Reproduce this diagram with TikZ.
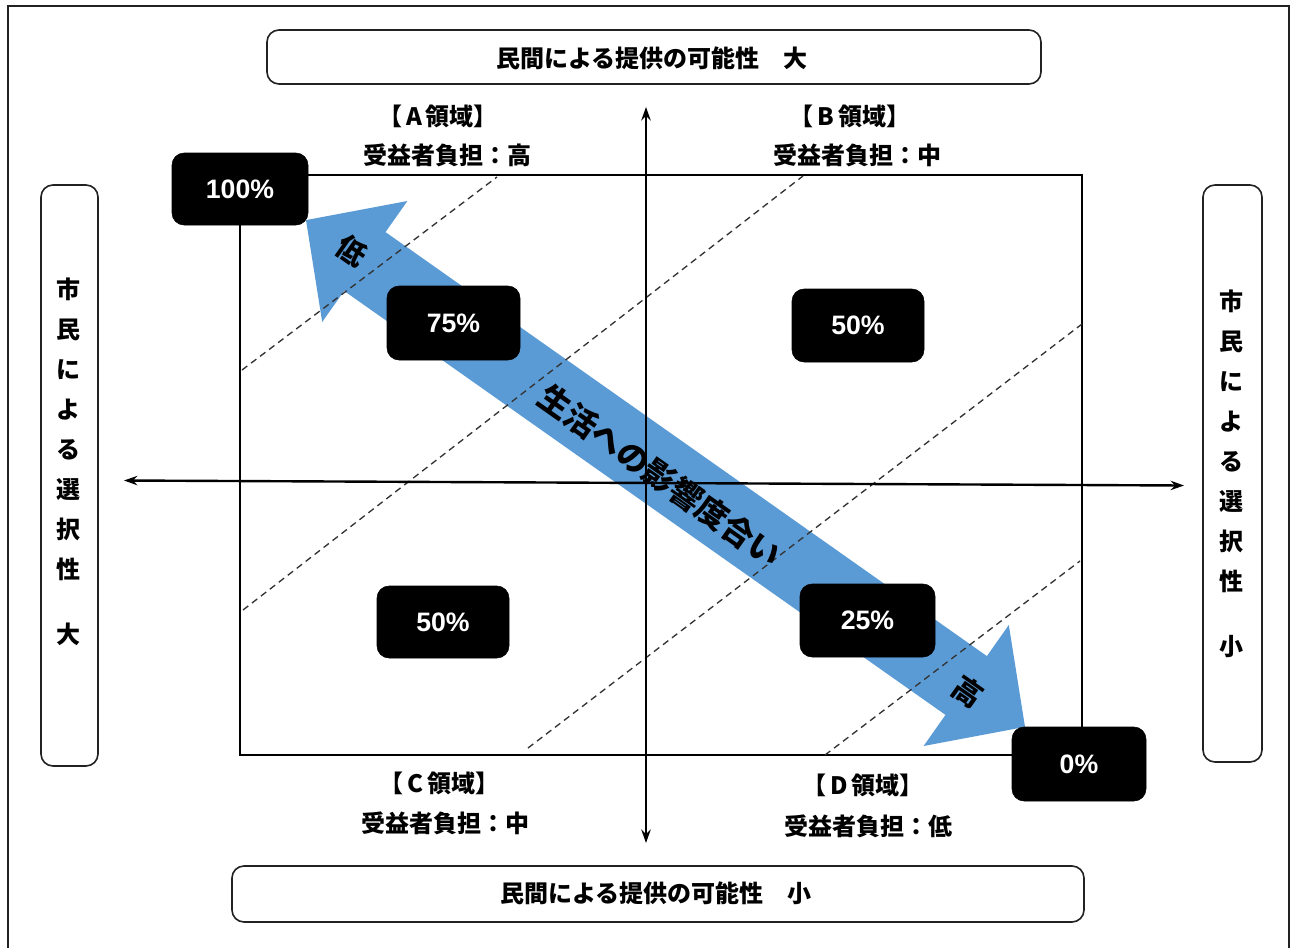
\documentclass[tikz,border=0pt]{standalone}
\usepackage{fontspec}
\setmainfont{Noto Sans CJK JP}
\newfontfamily\pctfont{Liberation Sans}
\usetikzlibrary{arrows.meta}
\definecolor{arrowblue}{HTML}{5B9BD5}
\definecolor{frame}{HTML}{222222}
\begin{document}
\begin{tikzpicture}[x=0.75pt,y=-0.75pt,
  jp/.style={font=\bfseries\fontsize{18}{18}\selectfont, inner sep=0pt},
  pct/.style={fill=black, draw=black, rounded corners=9pt, text=white, inner sep=0pt,
    font=\pctfont\bfseries\fontsize{20}{20}\selectfont},
  sidebox/.style={draw=frame, line width=1.2pt, rounded corners=9pt, fill=white, inner sep=0pt},
  axis/.style={line width=1.8pt, {Stealth[length=10pt,width=7pt]}-{Stealth[length=10pt,width=7pt]}},
  guide/.style={draw=black!80, line width=1pt, dash pattern=on 5pt off 3.5pt},
  vtext/.style={font=\bfseries\fontsize{18}{30}\selectfont, align=center, inner sep=0pt},
  arrtext/.style={font=\bfseries\fontsize{24}{24}\selectfont, inner sep=0pt, rotate=-35.2}
]
\useasboundingbox (0,0) rectangle (1290,947);
\fill[white] (0,0) rectangle (1290,947);
% outer frame
\draw[frame, line width=1.5pt] (8,6) rectangle (1289,980);

% inner quadrant rectangle
\draw[line width=1.1pt] (240,175) rectangle (1082,755);

% blue double arrow
\fill[arrowblue] (306,220.1) -- (407.4,201.0) -- (385.5,232.1) -- (986.9,656.1) -- (1008.8,625.0)
  -- (1025,726.9) -- (923.6,746.0) -- (945.5,714.9) -- (344.1,290.9) -- (322.2,322.0) -- cycle;

% dashed guides
\coordinate (g1a) at (242,370); \coordinate (g1b) at (497,177);
\coordinate (g2a) at (243,610); \coordinate (g2b) at (803,176);
\coordinate (g3a) at (528,748); \coordinate (g3b) at (1082,324);
\coordinate (g4a) at (825,755); \coordinate (g4b) at (1080,561);
\draw[guide] (g1a) -- (g1b);
\draw[guide] (g2a) -- (g2b);
\draw[guide] (g3a) -- (g3b);
\draw[guide] (g4a) -- (g4b);

% axes
\coordinate (vtop) at (646,107);
\coordinate (vbot) at (646,843);
\coordinate (hleft) at (124,480.5);
\coordinate (hright) at (1184,485.5);
\draw[axis] (vbot) -- (vtop);
\draw[axis] (hleft) -- (hright);

% arrow texts
\node[arrtext] (life) at (660,476) {生活への影響度合い};
\node[arrtext, font=\bfseries\fontsize{22}{22}\selectfont] (low) at (352,251) {低};
\node[arrtext, font=\bfseries\fontsize{22}{22}\selectfont] (high) at (968,692) {高};

% top / bottom boxes
\node[sidebox, minimum width=580.5pt, minimum height=40.5pt] (topbox) at (654,57) {};
\node[jp] (toptext) at (652,58) {民間による提供の可能性　大};
\node[sidebox, minimum width=639pt, minimum height=42pt] (botbox) at (658,894) {};
\node[jp] (bottext) at (656,893) {民間による提供の可能性　小};

% side boxes
\node[sidebox, minimum width=42.75pt, minimum height=435.75pt] (leftbox) at (69.5,475.5) {};
\node[vtext] (lefttext) at (68,462) {市\\民\\に\\よ\\る\\選\\択\\性\\[19pt]大};
\node[sidebox, minimum width=44.25pt, minimum height=432.75pt] (rightbox) at (1232.5,473.5) {};
\node[vtext] (righttext) at (1231,474) {市\\民\\に\\よ\\る\\選\\択\\性\\[19pt]小};

% region labels
\node[jp] (la) at (438,116) {【\hspace{3pt}A\hspace{3pt}領域】};
\node[jp] (lab) at (447,155) {受益者負担：高};
\node[jp] (lb) at (850,116) {【\hspace{3pt}B\hspace{3pt}領域】};
\node[jp] (lbb) at (857,155) {受益者負担：中};
\node[jp] (lc) at (440,783) {【\hspace{3pt}C\hspace{3pt}領域】};
\node[jp] (lcb) at (445,823) {受益者負担：中};
\node[jp] (ld) at (863,785) {【\hspace{3pt}D\hspace{3pt}領域】};
\node[jp] (ldb) at (868,826) {受益者負担：低};

% percentage boxes
\node[pct, minimum width=102pt, minimum height=54pt] (p100) at (240,189) {100\%};
\node[pct, minimum width=99.75pt, minimum height=55.5pt] (p75) at (453.5,323) {75\%};
\node[pct, minimum width=99pt, minimum height=54.75pt] (p50b) at (858,325.5) {50\%};
\node[pct, minimum width=99pt, minimum height=54pt] (p50c) at (443,622) {50\%};
\node[pct, minimum width=101.25pt, minimum height=54.75pt] (p25) at (867.5,620.5) {25\%};
\node[pct, minimum width=100.5pt, minimum height=55.5pt] (p0) at (1079,764) {0\%};
\end{tikzpicture}
\end{document}
